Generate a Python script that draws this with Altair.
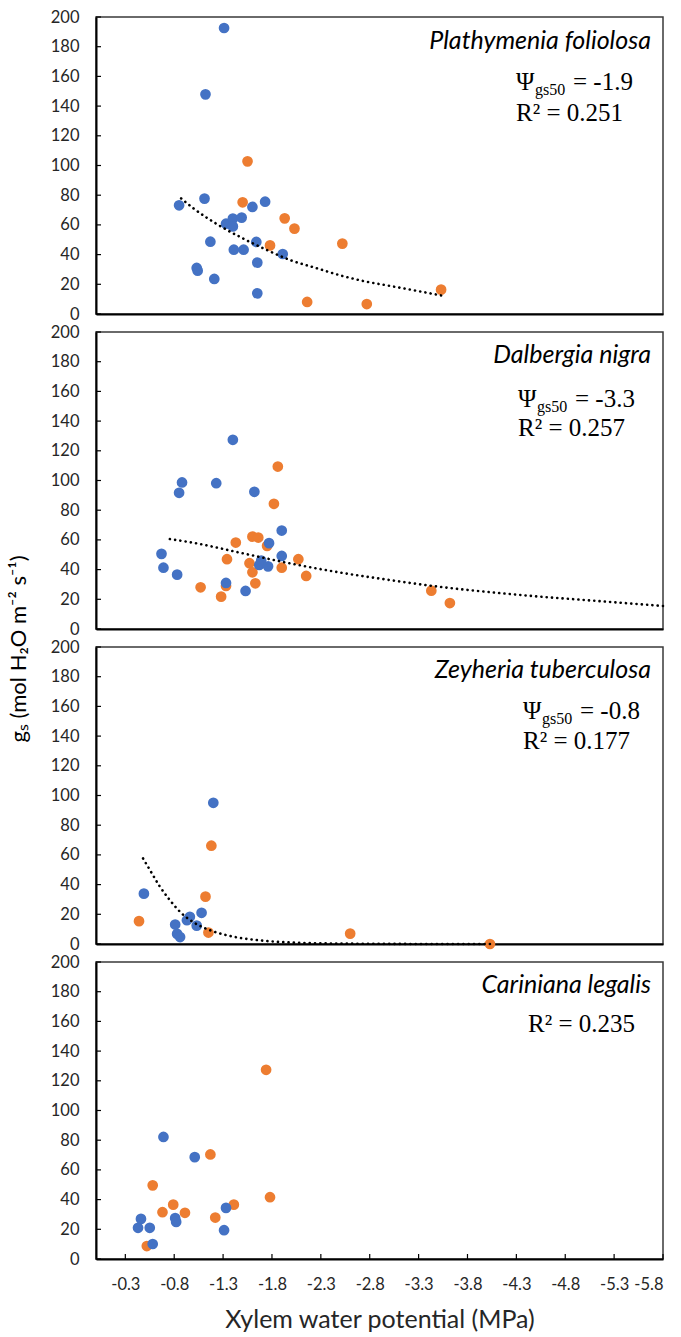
import altair as alt
import pandas as pd

# Plot-area size of each panel (pixels)
W, H = 567, 297

# Shared axes
X_TICKS = [-0.3, -0.8, -1.3, -1.8, -2.3, -2.8, -3.3, -3.8, -4.3, -4.8, -5.3, -5.8]
Y_TICKS = [0, 20, 40, 60, 80, 100, 120, 140, 160, 180, 200]

BLUE = "#4472C4"
ORANGE = "#ED7D31"
SANS = "Lato"
SERIF = "Liberation Serif"

# ---- Plathymenia foliolosa ----
pf_blue_psi = [-1.31, -1.12, -0.85, -1.11, -1.17, -1.03, -1.04, -1.21, -1.33, -1.40, -1.40,
               -1.49, -1.41, -1.51, -1.60, -1.73, -1.64, -1.65, -1.65, -1.91]
pf_blue_gs = [192.6, 147.9, 73.2, 77.7, 48.7, 31.0, 29.2, 23.6, 60.8, 64.2, 59.0,
              64.9, 43.3, 43.3, 72.1, 75.6, 48.5, 34.6, 13.9, 40.4]
pf_orange_psi = [-1.55, -1.50, -1.93, -2.03, -1.78, -2.16, -2.52, -2.77, -3.53]
pf_orange_gs = [102.8, 75.2, 64.4, 57.5, 46.2, 8.1, 47.4, 6.7, 16.4]
pf_fit_psi = [-0.85, -1.0, -1.25, -1.5, -1.75, -2.0, -2.25, -2.5, -2.75, -3.0, -3.25, -3.53]
pf_fit_gs = [79, 71, 60, 51, 43, 36, 31, 26, 22, 19, 16, 12.5]

# ---- Dalbergia nigra ----
dn_blue_psi = [-1.40, -0.88, -0.85, -1.23, -1.62, -0.67, -0.69, -0.83, -1.33, -1.53,
               -1.90, -1.77, -1.69, -1.67, -1.76, -1.90]
dn_blue_gs = [127.4, 98.7, 91.7, 98.2, 92.4, 50.6, 41.3, 36.6, 31.0, 25.6,
              66.3, 57.8, 46.1, 43.1, 42.2, 49.2]
dn_orange_psi = [-1.86, -1.82, -1.60, -1.66, -1.75, -1.43, -1.34, -1.57, -1.60, -1.63,
                 -1.33, -1.07, -1.28, -2.07, -1.90, -2.15, -3.43, -3.62]
dn_orange_gs = [109.4, 84.3, 62.2, 61.6, 56.0, 58.2, 47.0, 44.3, 38.2, 30.8,
                29.0, 28.1, 21.8, 47.0, 41.3, 35.7, 25.8, 17.5]
dn_fit_psi = [-0.71, -1.0, -1.5, -2.0, -2.5, -3.0, -3.5, -4.0, -4.5, -5.0, -5.5, -5.8]
dn_fit_gs = [61, 58, 51, 44, 38, 33, 28.5, 25, 22, 19.5, 17, 15.5]

# ---- Zeyheria tuberculosa ----
zt_blue_psi = [-1.20, -0.49, -0.81, -0.83, -0.86, -0.96, -0.93, -1.03, -1.08]
zt_blue_gs = [95.1, 33.9, 13.1, 6.8, 4.7, 18.3, 16.0, 12.4, 21.0]
zt_orange_psi = [-0.44, -1.18, -1.12, -1.15, -2.60, -4.03]
zt_orange_gs = [15.4, 66.2, 31.9, 7.7, 7.0, 0.0]
zt_fit_psi = [-0.46, -0.55, -0.65, -0.75, -0.87, -1.0, -1.2, -1.4, -1.7, -2.0, -2.5, -3.0, -3.5, -4.03]
zt_fit_gs = [60, 50, 39, 30, 21, 14.5, 8.5, 5, 2.3, 1.0, 0.3, 0.1, 0, 0]

# ---- Cariniana legalis ----
cl_blue_psi = [-0.69, -1.01, -0.46, -0.43, -0.55, -0.58, -0.81, -0.82, -1.33, -1.31]
cl_blue_gs = [82.2, 68.6, 27.0, 21.0, 21.0, 10.1, 27.5, 25.0, 34.4, 19.4]
cl_orange_psi = [-1.74, -1.17, -0.58, -0.68, -0.79, -0.91, -1.22, -1.41, -1.78, -0.52]
cl_orange_gs = [127.4, 70.4, 49.6, 31.5, 36.6, 31.1, 27.9, 36.6, 41.6, 8.7]


def frame(blue_psi, blue_gs, orange_psi, orange_gs, fit_psi, fit_gs):
    rows = []
    rows += [{"kind": "pt", "series": "B", "psi": p, "gs": g} for p, g in zip(orange_psi, orange_gs)]
    rows += [{"kind": "pt", "series": "A", "psi": p, "gs": g} for p, g in zip(blue_psi, blue_gs)]
    rows += [{"kind": "fit", "series": "fit", "psi": p, "gs": g} for p, g in zip(fit_psi, fit_gs)]
    rows += [{"kind": "ytick", "series": "", "psi": None, "gs": v} for v in Y_TICKS]
    rows += [{"kind": "xtick", "series": "", "psi": v, "gs": None} for v in X_TICKS]
    return pd.DataFrame(rows)


def x_enc(bottom):
    scale = alt.Scale(domain=[-5.8, 0], reverse=True, nice=False, zero=False)
    if bottom:
        axis = alt.Axis(values=X_TICKS, labelExpr="'-' + format(abs(datum.value), '.1f')",
                        ticks=False, labelPadding=17, labelOverlap=False,
                        title="Xylem water potential (MPa)", titlePadding=15)
    else:
        axis = alt.Axis(values=X_TICKS, labels=False, ticks=False, title=None)
    return alt.X("psi:Q", scale=scale, axis=axis)


def y_enc():
    return alt.Y("gs:Q", scale=alt.Scale(domain=[0, 200], nice=False),
                 axis=alt.Axis(values=Y_TICKS, ticks=False, labelPadding=17, title=None))


def label(text, x, y, font, size, align="left", style="normal", angle=0):
    return alt.Chart(pd.DataFrame({"t": [text]})).mark_text(
        font=font, fontSize=size, fontStyle=style, align=align, baseline="alphabetic",
        color="black", angle=angle,
    ).encode(text="t:N", x=alt.value(x), y=alt.value(y))


def panel(data, species, psi50, r2, tx, y_sp, y_psi, y_r2, bottom=False, extra=None):
    base = alt.Chart(data)
    x = x_enc(bottom)
    y = y_enc()
    pts = base.transform_filter("datum.kind == 'pt'").mark_circle(size=115, opacity=1).encode(
        x=x, y=y,
        color=alt.Color("series:N", scale=alt.Scale(domain=["A", "B"], range=[BLUE, ORANGE]), legend=None),
    )
    yt = base.transform_filter("datum.kind == 'ytick'").mark_rule(color="black", strokeWidth=1.2).encode(
        y=y, x=alt.value(0), x2=alt.value(5))
    layers = [yt, pts]
    if bottom:
        xt = base.transform_filter("datum.kind == 'xtick'").mark_rule(color="black", strokeWidth=1.2).encode(
            x=x, y=alt.value(H), y2=alt.value(H - 5))
        layers.append(xt)
    if (data["kind"] == "fit").any():
        fit = base.transform_filter("datum.kind == 'fit'").mark_line(
            color="black", strokeWidth=2.6, strokeDash=[0.1, 5.2], strokeCap="round", interpolate="monotone"
        ).encode(x=x, y=y, order="psi:Q")
        layers.append(fit)
    layers.append(label(species, W - 12, y_sp, SANS, 25, align="right", style="italic"))
    if psi50 is not None:
        layers.append(label("Ψ", tx, y_psi, SERIF, 25))
        layers.append(label("gs50", tx + 19, y_psi + 5, SERIF, 16))
        layers.append(label("= " + psi50, tx + 57, y_psi, SERIF, 25))
    layers.append(label("R² = " + r2, tx, y_r2, SERIF, 25))
    if extra is not None:
        layers.append(extra)
    return alt.layer(*layers).properties(width=W, height=H)


ytitle = label("gₛ (mol H₂O m⁻² s⁻¹)", -70, 2, SANS, 22, align="center", angle=270)

p1 = panel(frame(pf_blue_psi, pf_blue_gs, pf_orange_psi, pf_orange_gs, pf_fit_psi, pf_fit_gs),
           "Plathymenia foliolosa", "-1.9", "0.251", 420, 32, 73, 104)
p2 = panel(frame(dn_blue_psi, dn_blue_gs, dn_orange_psi, dn_orange_gs, dn_fit_psi, dn_fit_gs),
           "Dalbergia nigra", "-3.3", "0.257", 422, 31, 75, 104)
p3 = panel(frame(zt_blue_psi, zt_blue_gs, zt_orange_psi, zt_orange_gs, zt_fit_psi, zt_fit_gs),
           "Zeyheria tuberculosa", "-0.8", "0.177", 427, 31, 72, 102, extra=ytitle)
p4 = panel(frame(cl_blue_psi, cl_blue_gs, cl_orange_psi, cl_orange_gs, [], []),
           "Cariniana legalis", None, "0.235", 432, 31, None, 70, bottom=True)

chart = alt.vconcat(p1, p2, p3, p4, spacing=18, bounds="flush").properties(
    padding={"left": 7, "top": 8, "right": 5, "bottom": 5},
    background="white",
).configure_view(
    stroke="#3a3a3a", strokeWidth=1.5,
).configure_axis(
    domainColor="black", domainWidth=2, grid=False,
    labelFont=SANS, labelFontSize=16.5, labelColor="#262626",
    titleFont=SANS, titleFontSize=25, titleFontWeight="normal", titleColor="#262626",
)

chart.save("out.html", embed_options={"renderer": "svg", "actions": False})
